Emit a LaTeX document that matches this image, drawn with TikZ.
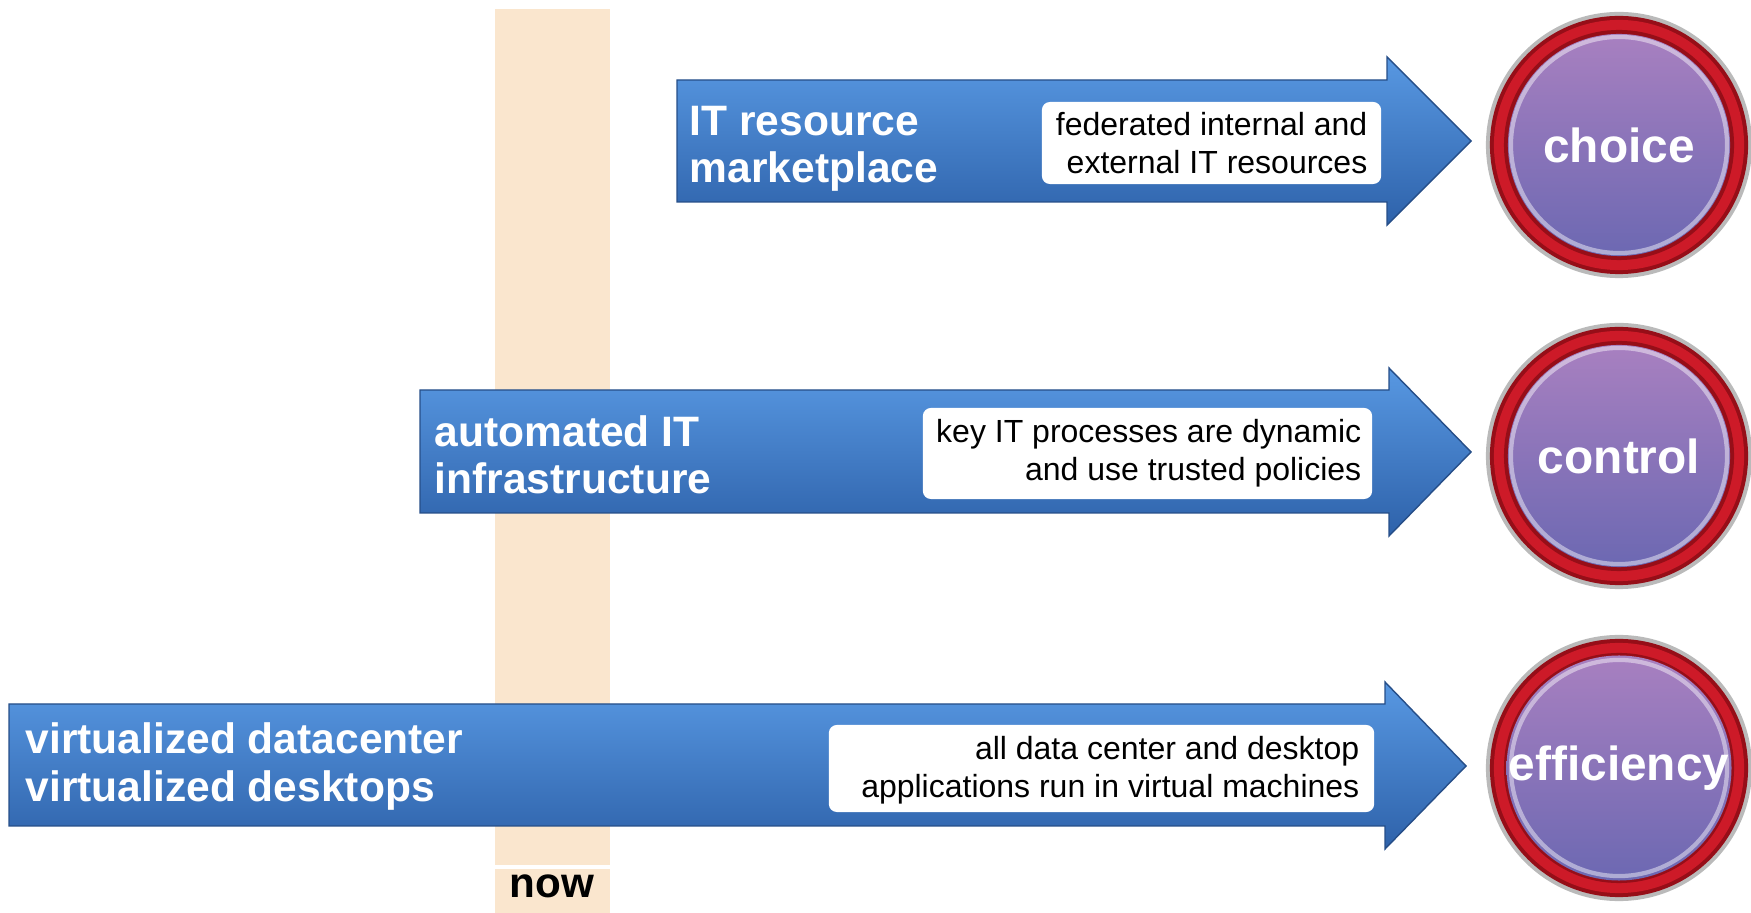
\documentclass[tikz,border=0pt]{standalone}
\usepackage{fontspec}
\setmainfont{Liberation Sans}

\definecolor{nowbar}{RGB}{250,230,206}
\definecolor{arrowtop}{RGB}{88,152,226}
\definecolor{arrowmid}{RGB}{62,125,204}
\definecolor{arrowbot}{RGB}{46,98,170}
\definecolor{arrowedge}{RGB}{38,78,136}
\definecolor{ringred}{RGB}{205,26,40}
\definecolor{ringdark}{RGB}{150,14,24}
\definecolor{purpletop}{RGB}{168,128,192}
\definecolor{purplebot}{RGB}{108,104,178}

\begin{document}
\begin{tikzpicture}[x=0.01cm, y=-0.01cm,
    arrowbody/.style={top color=arrowtop, middle color=arrowmid, bottom color=arrowbot, draw=arrowedge, line width=0.4pt},
    bigtext/.style={text=white, font=\fontsize{12.1}{13.4}\selectfont\bfseries, align=left, inner sep=0pt, anchor=west},
    infobox/.style={fill=white, rounded corners=0.08cm, inner sep=0pt},
    infotext/.style={font=\fontsize{9.1}{10.8}\selectfont, align=right, inner sep=0pt, anchor=east},
    badge/.style={circle, inner sep=0pt, minimum size=2.22cm, top color=purpletop, bottom color=purplebot,
        text=white, font=\fontsize{13.6}{15}\selectfont\bfseries}]
    \useasboundingbox (0,0) rectangle (1751,913);

    % now bar
    \fill[nowbar] (495,9) rectangle (610,913);
    \draw[white, line width=1pt] (495,867) -- (610,867);
    \node[font=\fontsize{12}{14}\selectfont\bfseries, inner sep=0pt] (now) at (552,886) {now};

    % arrows
    \path[arrowbody] (677,80) -- (1387,80) -- (1387,57) -- (1471,141) -- (1387,225) -- (1387,202) -- (677,202) -- cycle;
    \path[arrowbody] (420,390) -- (1389,390) -- (1389,368) -- (1471,452) -- (1389,536) -- (1389,513) -- (420,513) -- cycle;
    \path[arrowbody] (9,704) -- (1385,704) -- (1385,682) -- (1466,766) -- (1385,849) -- (1385,826) -- (9,826) -- cycle;

    \node[bigtext] (market) at (689,148.5) {IT resource\\marketplace};
    \node[bigtext] (auto) at (434,454.5) {automated IT\\infrastructure};
    \node[bigtext] (virt) at (25,766.5) {virtualized datacenter\\virtualized desktops};

    % white boxes
    \node[infobox, minimum width=3.39cm, minimum height=0.82cm] (b1) at (1211.5,143) {};
    \node[infobox, minimum width=4.49cm, minimum height=0.91cm] (b2) at (1147.5,453.5) {};
    \node[infobox, minimum width=5.45cm, minimum height=0.87cm] (b3) at (1101.5,768.5) {};
    \node[infotext] (t1) at (1368,143.5) {federated internal and\\external IT resources};
    \node[infotext] (t2) at (1362,453.5) {key IT processes are dynamic\\and use trusted policies};
    \node[infotext] (t3) at (1360,770) {all data center and desktop\\applications run in virtual machines};

    % badges
    \coordinate (k1) at (1619,145);
    \coordinate (k2) at (1619,456);
    \coordinate (k3) at (1619,768);
    \foreach \k in {k1,k2,k3} {
        \fill[black!45, opacity=.6] (\k) circle (1.33cm);
        \fill[ringdark] (\k) circle (1.29cm);
        \fill[ringred] (\k) circle (1.25cm);
        \fill[ringdark] (\k) circle (1.15cm);
    }
    \node[badge] (choice) at (k1) {choice};
    \node[badge] (control) at (k2) {control};
    \node[badge] (effic) at (k3) {efficiency};
    \foreach \k in {k1,k2,k3}
        \draw[white, opacity=.45, line width=1.2pt] (\k) circle (1.08cm);
\end{tikzpicture}
\end{document}
